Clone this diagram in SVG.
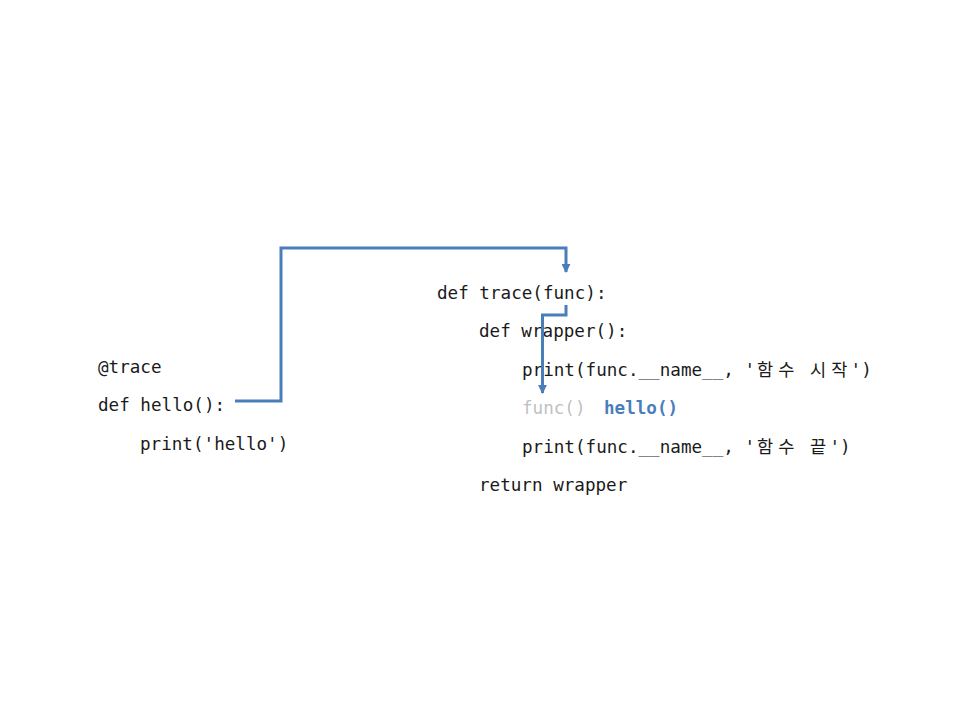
<svg xmlns="http://www.w3.org/2000/svg" width="960" height="720" viewBox="0 0 960 720">
<defs>
<style>
.code{font-family:"DejaVu Sans Mono","Noto Sans CJK KR",monospace;font-size:17.6px;fill:#1a1a1a;white-space:pre}
.ko{font-family:"Noto Sans CJK KR",sans-serif}
.dim{fill:#bfbfbf}
.hl{fill:#4a7ebb;font-weight:bold}
.conn{fill:none;stroke:#4a7ebb;stroke-width:3}
</style>
<marker id="arr" viewBox="0 0 10 10" refX="9" refY="5" markerWidth="3" markerHeight="3" orient="auto" markerUnits="strokeWidth">
<path d="M0,0 L10,5 L0,10 Z" fill="#4a7ebb"/>
</marker>
</defs>
<rect width="960" height="720" fill="#ffffff"/>
<g id="hello-code">
<text class="code" x="98" y="372.5">@trace</text>
<text class="code" x="98" y="411">def hello():</text>
<text class="code" x="140" y="449.5">print('hello')</text>
</g>
<g id="trace-code">
<text class="code" x="437" y="299">def trace(func):</text>
<text class="code" x="479" y="337.4">def wrapper():</text>
<text class="code" x="522" y="375.8">print(func.__name__, '<tspan class="ko" x="757">함</tspan><tspan class="ko" x="778.2">수</tspan><tspan class="ko" x="810">시</tspan><tspan class="ko" x="831.2">작</tspan><tspan x="850.6">')</tspan></text>
<text class="code dim" x="522" y="414.2">func()</text>
<text class="code hl" x="604" y="414.2">hello()</text>
<text class="code" x="522" y="452.6">print(func.__name__, '<tspan class="ko" x="757">함</tspan><tspan class="ko" x="778.2">수</tspan><tspan class="ko" x="810">끝</tspan><tspan x="829.4">')</tspan></text>
<text class="code" x="479" y="491">return wrapper</text>
</g>
<g id="connectors">
<path class="conn" d="M235,401 H281 V248 H566 V272" marker-end="url(#arr)"/>
<path class="conn" d="M566,305 V315 H542.5 V393" marker-end="url(#arr)"/>
</g>
</svg>
